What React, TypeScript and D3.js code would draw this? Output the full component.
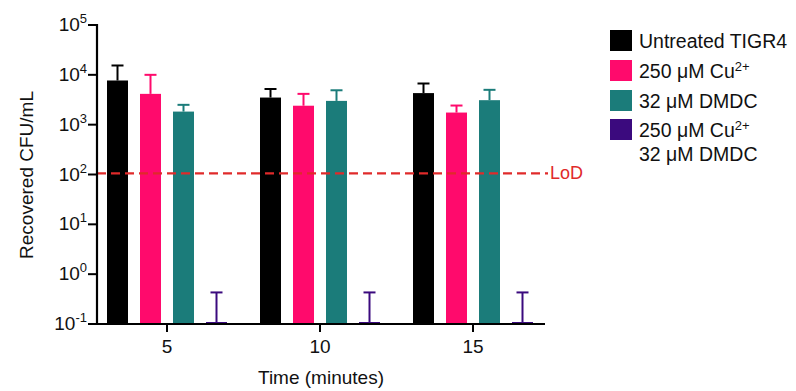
import React, { useEffect, useRef } from "react";
import * as d3 from "d3";

const times = ["5", "10", "15"];
const seriesNames = ["Untreated TIGR4", "250 μM Cu2+", "32 μM DMDC", "250 μM Cu2+ / 32 μM DMDC"];
const seriesColors = ["#000000", "#ff0a6c", "#1b7c7a", "#3b0a7e"];
const untreated = [7700, 3500, 4300];
const untreatedErr = [15400, 5200, 6700];
const copper = [4150, 2400, 1750];
const copperErr = [10000, 4150, 2420];
const dmdc = [1830, 3000, 3100];
const dmdcErr = [2500, 4900, 5000];
const combo = [0.1, 0.1, 0.1];
const comboErr = [0.43, 0.43, 0.43];
const lod = 105;
const yTicks = [-1, 0, 1, 2, 3, 4, 5];

const App = () => {
  const ref = useRef<SVGSVGElement>(null);
  useEffect(() => {
    const WIDTH = 796;
    const HEIGHT = 391;
    const MARGIN = { top: 25, left: 97 };
    const svg = d3.select(ref.current);
    svg.selectAll("*").remove();
    const font = "'Liberation Sans', Arial, sans-serif";

    const values = [untreated, copper, dmdc, combo];
    const errs = [untreatedErr, copperErr, dmdcErr, comboErr];

    const y = d3.scaleLog().domain([0.1, 1e5]).range([324, MARGIN.top]);
    const x0 = d3.scaleBand().domain(times).range([107, 533]).paddingInner(33 / 153).paddingOuter(0);
    const x1 = d3.scaleBand().domain(d3.range(4).map(String)).range([0, x0.bandwidth()]).paddingInner(12 / 33);

    const g = svg.append("g");

    // bars + error bars
    times.forEach((t, ti) => {
      values.forEach((vals, si) => {
        const bx = (x0(t) as number) + (x1(String(si)) as number);
        const bw = x1.bandwidth();
        const cx = bx + bw / 2;
        const top = y(vals[ti]);
        const etop = y(errs[si][ti]);
        g.append("line")
          .attr("x1", cx).attr("x2", cx)
          .attr("y1", top).attr("y2", etop)
          .attr("stroke", seriesColors[si]).attr("stroke-width", 2);
        g.append("line")
          .attr("x1", cx - 6).attr("x2", cx + 6)
          .attr("y1", etop).attr("y2", etop)
          .attr("stroke", seriesColors[si]).attr("stroke-width", 2);
        if (vals[ti] > 0.1) {
          g.append("rect")
            .attr("x", bx).attr("y", top)
            .attr("width", bw).attr("height", 324 - top)
            .attr("fill", seriesColors[si]);
        } else {
          g.append("line")
            .attr("x1", bx).attr("x2", bx + bw)
            .attr("y1", 323).attr("y2", 323)
            .attr("stroke", seriesColors[si]).attr("stroke-width", 2);
        }
      });
    });

    // LoD line
    g.append("line")
      .attr("x1", MARGIN.left).attr("x2", 548)
      .attr("y1", y(lod)).attr("y2", y(lod))
      .attr("stroke", "#e02a2a").attr("stroke-width", 2.2)
      .attr("stroke-dasharray", "9,5");
    g.append("text")
      .attr("x", 550).attr("y", y(lod) + 6)
      .attr("fill", "#e02a2a").attr("font-size", 18).attr("font-family", font)
      .text("LoD");

    // y axis
    g.append("line")
      .attr("x1", MARGIN.left).attr("x2", MARGIN.left)
      .attr("y1", MARGIN.top - 1).attr("y2", 325)
      .attr("stroke", "#000").attr("stroke-width", 2.2);
    yTicks.forEach((p) => {
      const ty = y(Math.pow(10, p));
      g.append("line")
        .attr("x1", MARGIN.left - 9).attr("x2", MARGIN.left)
        .attr("y1", ty).attr("y2", ty)
        .attr("stroke", "#000").attr("stroke-width", 2);
      const tx = g.append("text")
        .attr("x", MARGIN.left - 10).attr("y", ty + 6)
        .attr("text-anchor", "end").attr("font-size", 19).attr("font-family", font)
        .attr("fill", "#111");
      tx.append("tspan").text("10");
      tx.append("tspan").attr("dy", -8).attr("font-size", 13).text(String(p));
    });

    // x axis
    g.append("line")
      .attr("x1", MARGIN.left - 1).attr("x2", 545)
      .attr("y1", 324).attr("y2", 324)
      .attr("stroke", "#000").attr("stroke-width", 2.2);
    times.forEach((t) => {
      const tx = (x0(t) as number) + x0.bandwidth() / 2;
      g.append("line")
        .attr("x1", tx).attr("x2", tx)
        .attr("y1", 324).attr("y2", 332)
        .attr("stroke", "#000").attr("stroke-width", 2);
      g.append("text")
        .attr("x", tx).attr("y", 353)
        .attr("text-anchor", "middle").attr("font-size", 19).attr("font-family", font)
        .attr("fill", "#111")
        .text(t);
    });

    // axis titles
    g.append("text")
      .attr("x", 321).attr("y", 384)
      .attr("text-anchor", "middle").attr("font-size", 19).attr("font-family", font)
      .attr("fill", "#111")
      .text("Time (minutes)");
    g.append("text")
      .attr("transform", "translate(33,175) rotate(-90)")
      .attr("text-anchor", "middle").attr("font-size", 19).attr("font-family", font)
      .attr("fill", "#111")
      .text("Recovered CFU/mL");

    // legend
    const legendY = [30, 60, 90, 119];
    seriesNames.forEach((name, i) => {
      g.append("rect")
        .attr("x", 610).attr("y", legendY[i])
        .attr("width", 22).attr("height", 21)
        .attr("fill", seriesColors[i]);
      const lines = name.split(" / ");
      lines.forEach((ln, li) => {
        const tx = g.append("text")
          .attr("x", 639).attr("y", legendY[i] + 18 + li * 24)
          .attr("font-size", 19.5).attr("font-family", font).attr("fill", "#111");
        if (ln.endsWith("Cu2+")) {
          tx.append("tspan").text(ln.slice(0, -2));
          tx.append("tspan").attr("dy", -7).attr("font-size", 13).text("2+");
        } else {
          tx.text(ln);
        }
      });
    });

    svg.attr("width", WIDTH).attr("height", HEIGHT);
  }, []);

  return <svg ref={ref} width={796} height={391} style={{ display: "block", position: "absolute", left: 0, top: 0 }} />;
};

export default App;
